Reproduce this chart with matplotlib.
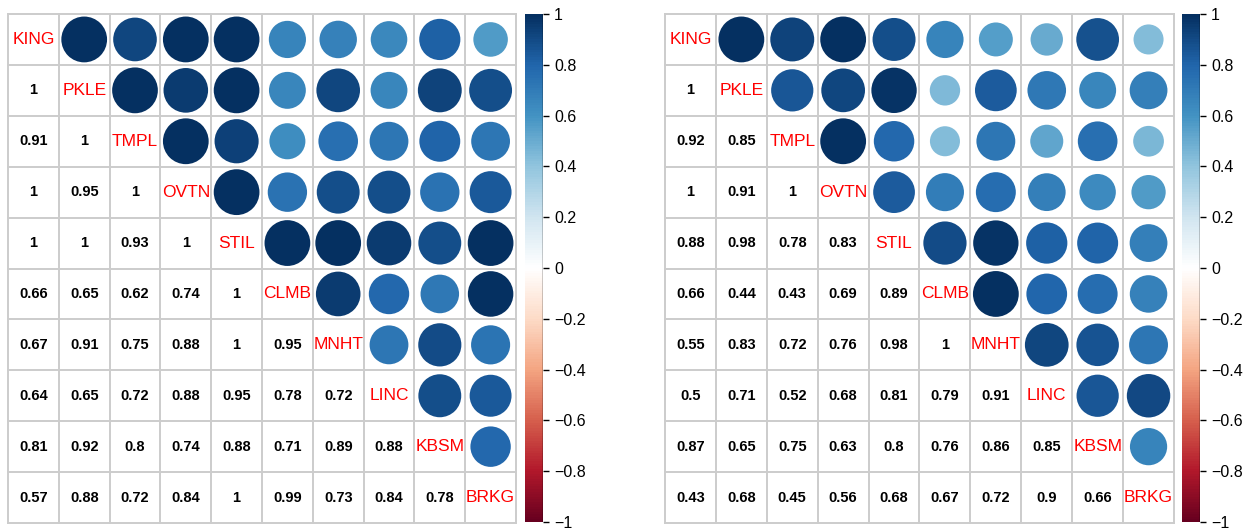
import numpy as np
import matplotlib
matplotlib.use('Agg')
import matplotlib.pyplot as plt
from matplotlib.patches import Ellipse
from matplotlib.colors import LinearSegmentedColormap, Normalize
import matplotlib.cm as cm

plt.rcParams['font.family'] = ['Liberation Sans', 'DejaVu Sans']

names = ['KING', 'PKLE', 'TMPL', 'OVTN', 'STIL', 'CLMB', 'MNHT', 'LINC', 'KBSM', 'BRKG']

# lower triangles (row i, columns 0..i-1)
left_lower = [
    [],
    [1],
    [0.91, 1],
    [1, 0.95, 1],
    [1, 1, 0.93, 1],
    [0.66, 0.65, 0.62, 0.74, 1],
    [0.67, 0.91, 0.75, 0.88, 1, 0.95],
    [0.64, 0.65, 0.72, 0.88, 0.95, 0.78, 0.72],
    [0.81, 0.92, 0.8, 0.74, 0.88, 0.71, 0.89, 0.88],
    [0.57, 0.88, 0.72, 0.84, 1, 0.99, 0.73, 0.84, 0.78],
]

right_lower = [
    [],
    [1],
    [0.92, 0.85],
    [1, 0.91, 1],
    [0.88, 0.98, 0.78, 0.83],
    [0.66, 0.44, 0.43, 0.69, 0.89],
    [0.55, 0.83, 0.72, 0.76, 0.98, 1],
    [0.5, 0.71, 0.52, 0.68, 0.81, 0.79, 0.91],
    [0.87, 0.65, 0.75, 0.63, 0.8, 0.76, 0.86, 0.85],
    [0.43, 0.68, 0.45, 0.56, 0.68, 0.67, 0.72, 0.9, 0.66],
]

cb_ticks = [-1, -0.8, -0.6, -0.4, -0.2, 0, 0.2, 0.4, 0.6, 0.8, 1]


def full_matrix(lower):
    n = len(names)
    m = np.eye(n)
    for i, row in enumerate(lower):
        for j, v in enumerate(row):
            m[i, j] = v
            m[j, i] = v
    return m


cmap = LinearSegmentedColormap.from_list(
    'corr', ['#67001F', '#B2182B', '#D6604D', '#F4A582', '#FDDBC7', '#FFFFFF',
             '#D1E5F0', '#92C5DE', '#4393C3', '#2166AC', '#053061'], N=200)
norm = Normalize(-1, 1)


def fmt(v):
    s = f'{round(v, 2):g}'
    if s == '-0':
        s = '0'
    return s.replace('-', '\u2212')


def draw_panel(ax, cax, m):
    n = len(names)
    ax.set_xlim(0, n)
    ax.set_ylim(n, 0)
    ax.axis('off')
    for i in range(n):
        for j in range(n):
            if i == j:
                ax.text(j + 0.5, i + 0.5, names[i], color='#FF0000', fontsize=12.5,
                        ha='center', va='center')
            elif j < i:
                ax.text(j + 0.5, i + 0.5, fmt(m[i, j]), color='black', fontsize=10.5,
                        fontweight='bold', ha='center', va='center')
            else:
                d = 0.9 * np.sqrt(abs(m[i, j]))
                ax.add_patch(Ellipse((j + 0.5, i + 0.5), d, d, color=cmap(norm(m[i, j])),
                                     lw=0))
    for k in range(n + 1):
        ax.plot([0, n], [k, k], color='#cccccc', lw=1.4, clip_on=False, zorder=0)
        ax.plot([k, k], [0, n], color='#cccccc', lw=1.4, clip_on=False, zorder=0)

    cb = plt.colorbar(cm.ScalarMappable(norm=norm, cmap=cmap), cax=cax, ticks=cb_ticks)
    cb.outline.set_visible(False)
    cax.axvline(1, color='black', lw=1)
    cax.tick_params(axis='y', direction='out', length=4, width=1, pad=4, labelsize=11.5)
    cb.set_ticklabels([fmt(t) for t in cb_ticks])


fig = plt.figure(figsize=(12.47, 5.31), dpi=100)
W, H = 1247.0, 531.0

ax1 = fig.add_axes([8 / W, (H - 523) / H, 508 / W, 509 / H])
cax1 = fig.add_axes([525 / W, (H - 522) / H, 18 / W, 508 / H])
ax2 = fig.add_axes([665 / W, (H - 523) / H, 509 / W, 509 / H])
cax2 = fig.add_axes([1182 / W, (H - 522) / H, 18 / W, 508 / H])

draw_panel(ax1, cax1, full_matrix(left_lower))
draw_panel(ax2, cax2, full_matrix(right_lower))

fig.savefig('out.png', dpi=100)
